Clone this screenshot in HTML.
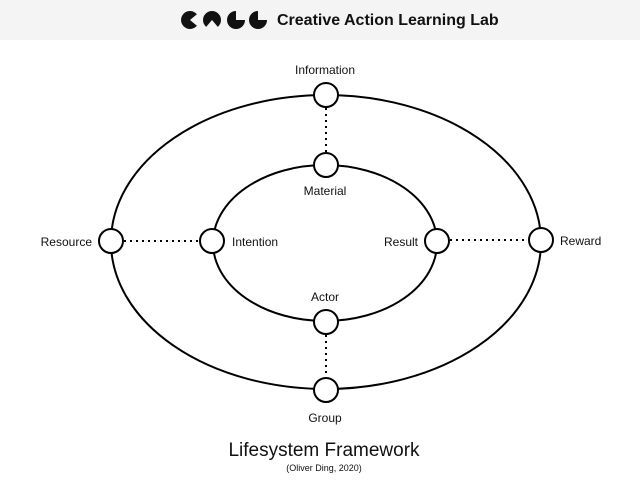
<!DOCTYPE html>
<html><head><meta charset="utf-8"><style>
body{margin:0;width:640px;height:491px;background:#fff;overflow:hidden;font-family:"Liberation Sans",sans-serif;}
</style></head><body>
<svg width="640" height="491" viewBox="0 0 640 491" xmlns="http://www.w3.org/2000/svg" font-family="Liberation Sans, sans-serif">
<rect x="0" y="0" width="640" height="40" fill="#f4f4f4"/>
<g fill="#111">
<path d="M190 20 L196.9 14.2 A9 9 0 1 0 196.9 25.8 Z"/>
<path d="M212 20 L217.8 26.9 A9 9 0 1 0 206.2 26.9 Z"/>
<path d="M236 20 L236 11 A9 9 0 1 0 245 20 Z"/>
<path d="M258 20 L258 11 A9 9 0 1 0 267 20 Z"/>
</g>
<text x="277" y="25" font-size="16" font-weight="bold" fill="#111">Creative Action Learning Lab</text>
<g fill="none" stroke="#000" stroke-width="2">
<ellipse cx="326" cy="242" rx="215" ry="147"/>
<ellipse cx="325" cy="243" rx="112" ry="78"/>
</g>
<g stroke="#000" stroke-width="2" stroke-dasharray="2,4">
<line x1="326" y1="108" x2="326" y2="152"/>
<line x1="326" y1="335" x2="326" y2="377"/>
<line x1="124" y1="241" x2="199" y2="241"/>
<line x1="450" y1="240" x2="528" y2="240"/>
</g>
<g fill="#fff" stroke="#000" stroke-width="2">
<circle cx="326" cy="95" r="12"/>
<circle cx="326" cy="165" r="12"/>
<circle cx="111" cy="241" r="12"/>
<circle cx="212" cy="241" r="12"/>
<circle cx="437" cy="241" r="12"/>
<circle cx="541" cy="240" r="12"/>
<circle cx="326" cy="322" r="12"/>
<circle cx="326" cy="390" r="12"/>
</g>
<g font-size="12" fill="#111">
<text x="325" y="74" text-anchor="middle">Information</text>
<text x="325" y="195" text-anchor="middle">Material</text>
<text x="92" y="246" text-anchor="end">Resource</text>
<text x="232" y="246">Intention</text>
<text x="418" y="246" text-anchor="end">Result</text>
<text x="560" y="245">Reward</text>
<text x="325" y="301" text-anchor="middle">Actor</text>
<text x="325" y="422" text-anchor="middle">Group</text>
</g>
<text x="324" y="456" font-size="19" text-anchor="middle" fill="#111">Lifesystem Framework</text>
<text x="324" y="471" font-size="9" text-anchor="middle" fill="#111">(Oliver Ding, 2020)</text>
</svg>
</body></html>
